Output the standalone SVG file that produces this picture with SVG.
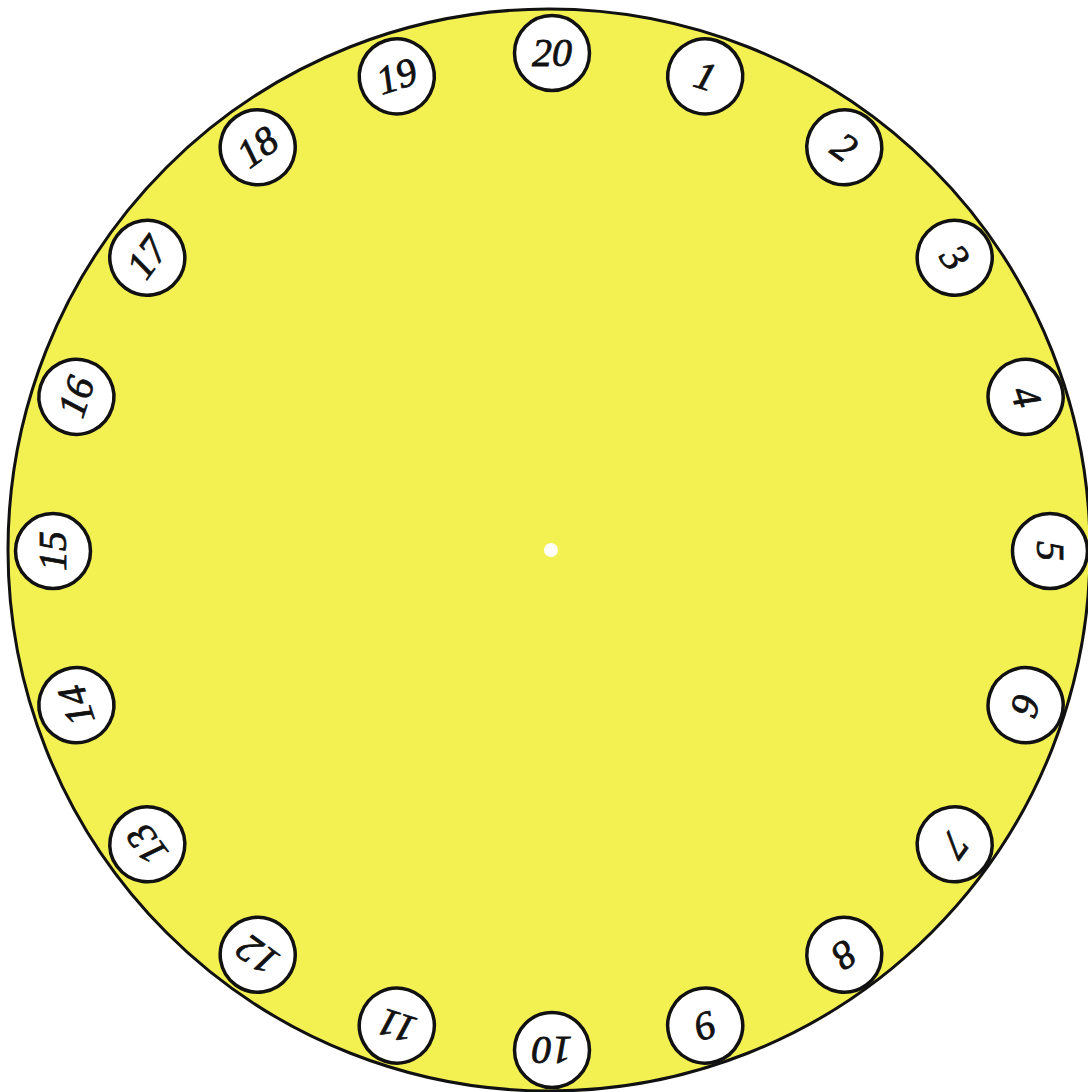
<svg xmlns="http://www.w3.org/2000/svg" width="1088" height="1092" viewBox="0 0 1088 1092">
<style>
.disc{fill:#f3f052;stroke:#111;stroke-width:3}
.n circle{fill:#fff;stroke:#111;stroke-width:3.5}
.n text{font-family:"Liberation Serif",serif;font-style:italic;font-size:40px;fill:#111;stroke:#111;stroke-width:0.8;text-anchor:middle}
</style>
<rect width="1088" height="1092" fill="#fff"/>
<g id="plate">
<circle class="disc" cx="549" cy="550" r="541"/>
<circle cx="551" cy="550" r="7" fill="#fff"/>
</g>
<g id="connectors"/>
<g id="n20" class="n" transform="translate(552,53) rotate(0)"><circle r="37.5"/><text y="13">20</text></g>
<g id="n1" class="n" transform="translate(705.2,76.4) rotate(18)"><circle r="37.5"/><text y="13">1</text></g>
<g id="n2" class="n" transform="translate(844.3,147.3) rotate(36)"><circle r="37.5"/><text y="13">2</text></g>
<g id="n3" class="n" transform="translate(954.7,257.7) rotate(54)"><circle r="37.5"/><text y="13">3</text></g>
<g id="n4" class="n" transform="translate(1025.6,396.8) rotate(72)"><circle r="37.5"/><text y="13">4</text></g>
<g id="n5" class="n" transform="translate(1050,551) rotate(90)"><circle r="37.5"/><text y="13">5</text></g>
<g id="n6" class="n" transform="translate(1025.6,705.2) rotate(108)"><circle r="37.5"/><text y="13">6</text></g>
<g id="n7" class="n" transform="translate(954.7,844.3) rotate(126)"><circle r="37.5"/><text y="13">7</text></g>
<g id="n8" class="n" transform="translate(844.3,954.7) rotate(144)"><circle r="37.5"/><text y="13">8</text></g>
<g id="n9" class="n" transform="translate(705.2,1025.6) rotate(162)"><circle r="37.5"/><text y="13">9</text></g>
<g id="n10" class="n" transform="translate(552,1050) rotate(180)"><circle r="37.5"/><text y="13">10</text></g>
<g id="n11" class="n" transform="translate(396.8,1025.6) rotate(198)"><circle r="37.5"/><text y="13">11</text></g>
<g id="n12" class="n" transform="translate(257.7,954.7) rotate(216)"><circle r="37.5"/><text y="13">12</text></g>
<g id="n13" class="n" transform="translate(147.3,844.3) rotate(234)"><circle r="37.5"/><text y="13">13</text></g>
<g id="n14" class="n" transform="translate(76.4,705.2) rotate(252)"><circle r="37.5"/><text y="13">14</text></g>
<g id="n15" class="n" transform="translate(53,551) rotate(270)"><circle r="37.5"/><text y="13">15</text></g>
<g id="n16" class="n" transform="translate(76.4,396.8) rotate(288)"><circle r="37.5"/><text y="13">16</text></g>
<g id="n17" class="n" transform="translate(147.3,257.7) rotate(306)"><circle r="37.5"/><text y="13">17</text></g>
<g id="n18" class="n" transform="translate(257.7,147.3) rotate(324)"><circle r="37.5"/><text y="13">18</text></g>
<g id="n19" class="n" transform="translate(396.8,76.4) rotate(342)"><circle r="37.5"/><text y="13">19</text></g>
</svg>
